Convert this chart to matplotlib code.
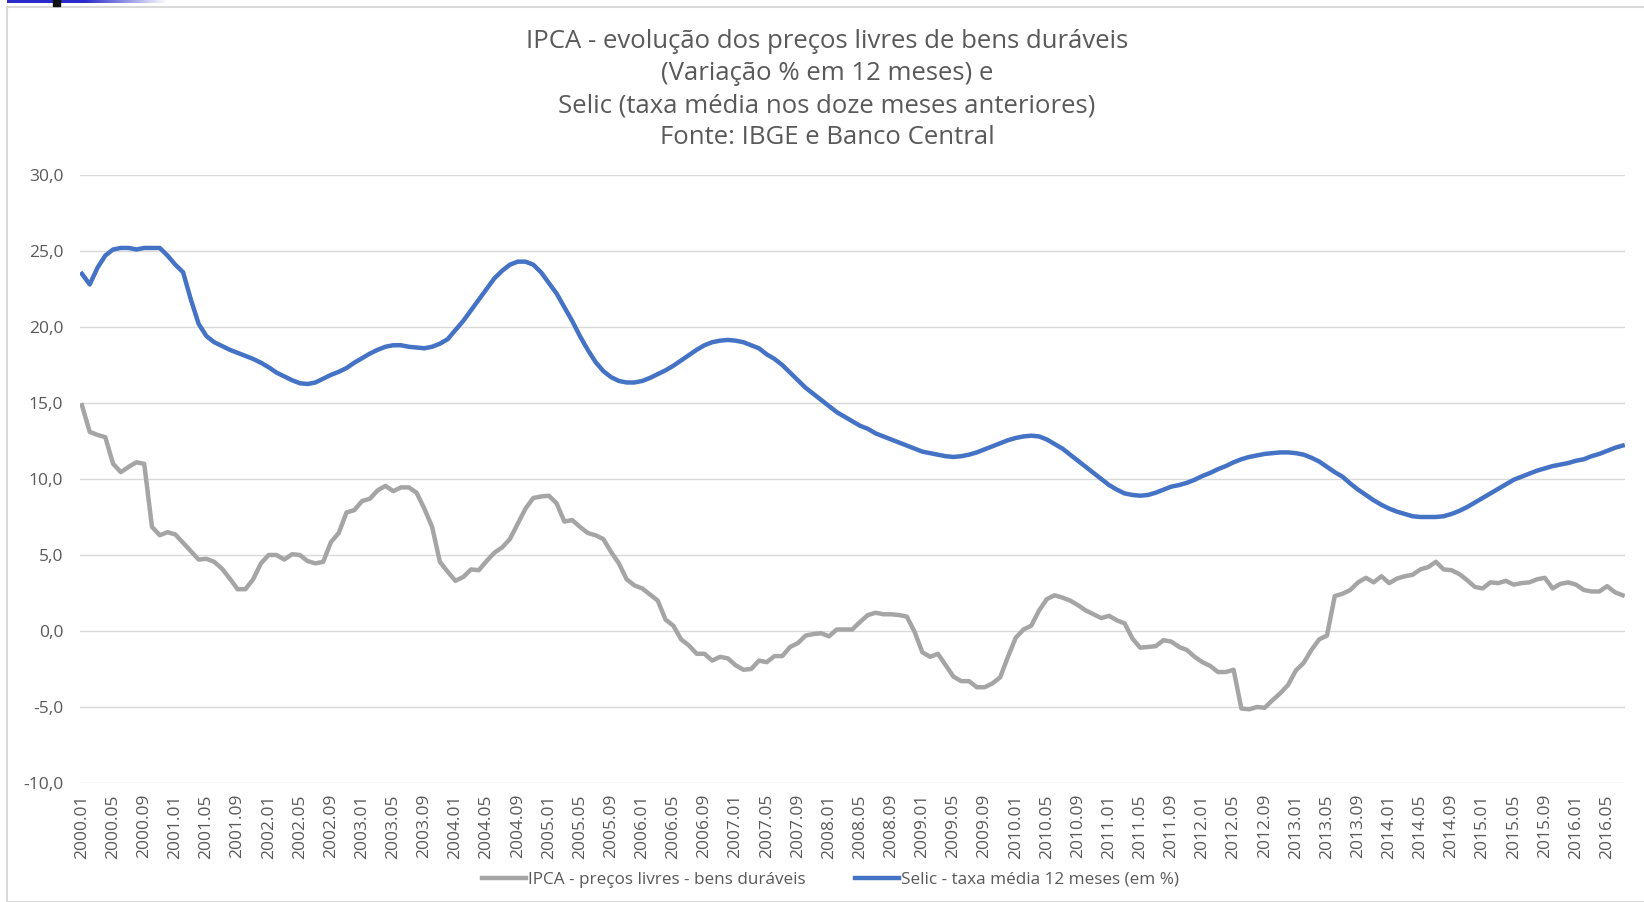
import numpy as np
import matplotlib
matplotlib.use('Agg')
import matplotlib.pyplot as plt
from matplotlib.patches import Rectangle

# titulo (uma linha por item)
titulo = ['IPCA - evolução dos preços livres de bens duráveis',
          '(Variação % em 12 meses) e',
          'Selic (taxa média nos doze meses anteriores)',
          'Fonte: IBGE e Banco Central']

# meses de 2000.01 a 2016.07
meses = [f"{2000 + i // 12}.{i % 12 + 1:02d}" for i in range(199)]

# IPCA - precos livres - bens duraveis (var. % 12 meses)
ipca_duraveis = [
    14.85, 13.1, 12.9, 12.75, 11.0, 10.45, 10.8, 11.1, 11.0, 6.85,
    6.3, 6.5, 6.35, 5.8, 5.25, 4.7, 4.75, 4.55, 4.1, 3.45,
    2.75, 2.75, 3.4, 4.45, 5.0, 5.0, 4.7, 5.05, 5.0, 4.6,
    4.45, 4.55, 5.85, 6.45, 7.8, 7.95, 8.55, 8.7, 9.25, 9.55,
    9.2, 9.45, 9.45, 9.1, 8.05, 6.85, 4.55, 3.9, 3.3, 3.55,
    4.05, 4.0, 4.6, 5.15, 5.5, 6.05, 7.05, 8.05, 8.75, 8.85,
    8.9, 8.4, 7.2, 7.3, 6.85, 6.45, 6.3, 6.05, 5.2, 4.45,
    3.4, 3.0, 2.8, 2.4, 2.0, 0.75, 0.35, -0.55, -0.95, -1.5,
    -1.5, -1.95, -1.7, -1.8, -2.25, -2.55, -2.5, -1.95, -2.05, -1.65,
    -1.65, -1.05, -0.8, -0.3, -0.2, -0.15, -0.35, 0.1, 0.1, 0.1,
    0.6, 1.05, 1.2, 1.1, 1.1, 1.05, 0.95, -0.05, -1.4, -1.7,
    -1.5, -2.25, -3.0, -3.3, -3.3, -3.7, -3.7, -3.45, -3.05, -1.7,
    -0.45, 0.1, 0.35, 1.35, 2.1, 2.35, 2.2, 2.0, 1.7, 1.35,
    1.1, 0.85, 1.0, 0.7, 0.5, -0.5, -1.1, -1.05, -1.0, -0.6,
    -0.7, -1.05, -1.25, -1.7, -2.05, -2.3, -2.7, -2.7, -2.55, -5.1,
    -5.15, -5.0, -5.05, -4.55, -4.1, -3.55, -2.6, -2.1, -1.25, -0.55,
    -0.3, 2.3, 2.45, 2.7, 3.2, 3.5, 3.2, 3.6, 3.15, 3.45,
    3.6, 3.7, 4.05, 4.2, 4.55, 4.05, 4.0, 3.75, 3.35, 2.9,
    2.8, 3.2, 3.15, 3.3, 3.05, 3.15, 3.2, 3.4, 3.5, 2.8,
    3.1, 3.2, 3.05, 2.7, 2.6, 2.6, 2.95, 2.55, 2.35,
]

# Selic - taxa media 12 meses (em %)
selic_media = [
    23.5, 22.8, 23.9, 24.7, 25.1, 25.2, 25.2, 25.1, 25.2, 25.2,
    25.2, 24.7, 24.1, 23.6, 21.8, 20.2, 19.4, 19.0, 18.75, 18.5,
    18.3, 18.1, 17.9, 17.65, 17.35, 17.0, 16.75, 16.5, 16.3, 16.25,
    16.35, 16.6, 16.85, 17.05, 17.3, 17.65, 17.95, 18.25, 18.5, 18.7,
    18.8, 18.8, 18.7, 18.65, 18.6, 18.7, 18.9, 19.2, 19.8, 20.4,
    21.1, 21.8, 22.5, 23.2, 23.7, 24.1, 24.3, 24.3, 24.1, 23.6,
    22.9, 22.2, 21.3, 20.4, 19.4, 18.5, 17.7, 17.1, 16.7, 16.45,
    16.35, 16.35, 16.45, 16.65, 16.9, 17.15, 17.45, 17.8, 18.15, 18.5,
    18.8, 19.0, 19.1, 19.15, 19.1, 19.0, 18.8, 18.6, 18.2, 17.9,
    17.5, 17.0, 16.5, 16.0, 15.6, 15.2, 14.8, 14.4, 14.1, 13.8,
    13.5, 13.3, 13.0, 12.8, 12.6, 12.4, 12.2, 12.0, 11.8, 11.7,
    11.6, 11.5, 11.45, 11.5, 11.6, 11.75, 11.95, 12.15, 12.35, 12.55,
    12.7, 12.8, 12.85, 12.8, 12.6, 12.3, 12.0, 11.6, 11.2, 10.8,
    10.4, 10.0, 9.6, 9.3, 9.05, 8.95, 8.9, 8.95, 9.1, 9.3,
    9.5, 9.6, 9.75, 9.95, 10.2, 10.4, 10.65, 10.85, 11.1, 11.3,
    11.45, 11.55, 11.65, 11.7, 11.75, 11.75, 11.7, 11.6, 11.4, 11.15,
    10.8, 10.45, 10.15, 9.7, 9.3, 8.95, 8.6, 8.3, 8.05, 7.85,
    7.7, 7.55, 7.5, 7.5, 7.5, 7.55, 7.7, 7.9, 8.15, 8.45,
    8.75, 9.05, 9.35, 9.65, 9.95, 10.15, 10.35, 10.55, 10.7, 10.85,
    10.95, 11.05, 11.2, 11.3, 11.5, 11.65, 11.85, 12.05, 12.2,
]

rotulo_ipca = 'IPCA - preços livres - bens duráveis'
rotulo_selic = 'Selic - taxa média 12 meses (em %)'

cinza = '#A5A5A5'
azul = '#4472C4'
texto = '#595959'

plt.rcParams['font.family'] = ['Open Sans', 'DejaVu Sans']

fig = plt.figure(figsize=(16.44, 9.02), dpi=100)
ax = fig.add_axes([80 / 1644, 1 - 783 / 902, 1545 / 1644, 608 / 902])

x = np.arange(len(meses))
ax.plot(x, ipca_duraveis, color=cinza, lw=3.2, label=rotulo_ipca, solid_joinstyle='round')
ax.plot(x, selic_media, color=azul, lw=3.2, label=rotulo_selic, solid_joinstyle='round')

ax.set_ylim(-10, 30)
ax.set_yticks(np.arange(-10, 31, 5))
ax.set_yticklabels([f"{v:.1f}".replace('.', ',') for v in np.arange(-10, 31, 5)])
ax.set_xlim(-0.25, len(meses) - 1 + 0.3)
ax.set_xticks(x[::4])
ax.set_xticklabels(meses[::4], rotation=90)

ax.grid(axis='y', color='#D9D9D9', lw=1.0)
ax.set_axisbelow(True)
for s in ax.spines.values():
    s.set_visible(False)
ax.tick_params(axis='both', length=0, colors=texto, labelsize=12.5)
ax.tick_params(axis='y', pad=12)
ax.tick_params(axis='x', pad=8)

# titulo
for i, linha in enumerate(titulo):
    fig.text(0.503, 1 - (41 + i * 32.3) / 902, linha, ha='center', va='center',
             fontsize=18.5, color=texto)

leg = fig.legend(loc='center', bbox_to_anchor=(0.505, 1 - 880 / 902), ncol=2, frameon=False,
                 handlelength=2.6, handletextpad=0.1, columnspacing=2.9,
                 prop={'size': 12.3})
for t in leg.get_texts():
    t.set_color(texto)

# borda da area do grafico
fig.patches.append(Rectangle((7 / 1644, 0), 1, 1 - 7 / 902, transform=fig.transFigure,
                             fill=False, edgecolor='#D9D9D9', lw=1.5))

# faixa azul no canto superior (recorte da tela)
faixa = fig.add_axes([7 / 1644, 1 - 3 / 902, 160 / 1644, 3 / 902])
grad = np.concatenate([np.ones(77), np.linspace(1, 0, 83)])
cores = np.ones((1, len(grad), 3))
for c, v in enumerate([0.17, 0.17, 0.8]):
    cores[0, :, c] = 1 - grad * (1 - v)
faixa.imshow(cores, aspect='auto')
faixa.axis('off')
fig.patches.append(Rectangle((53 / 1644, 1 - 6 / 902), 7 / 1644, 6 / 902,
                             transform=fig.transFigure, color='#111111'))

fig.savefig('out.png', dpi=100, facecolor='white')
